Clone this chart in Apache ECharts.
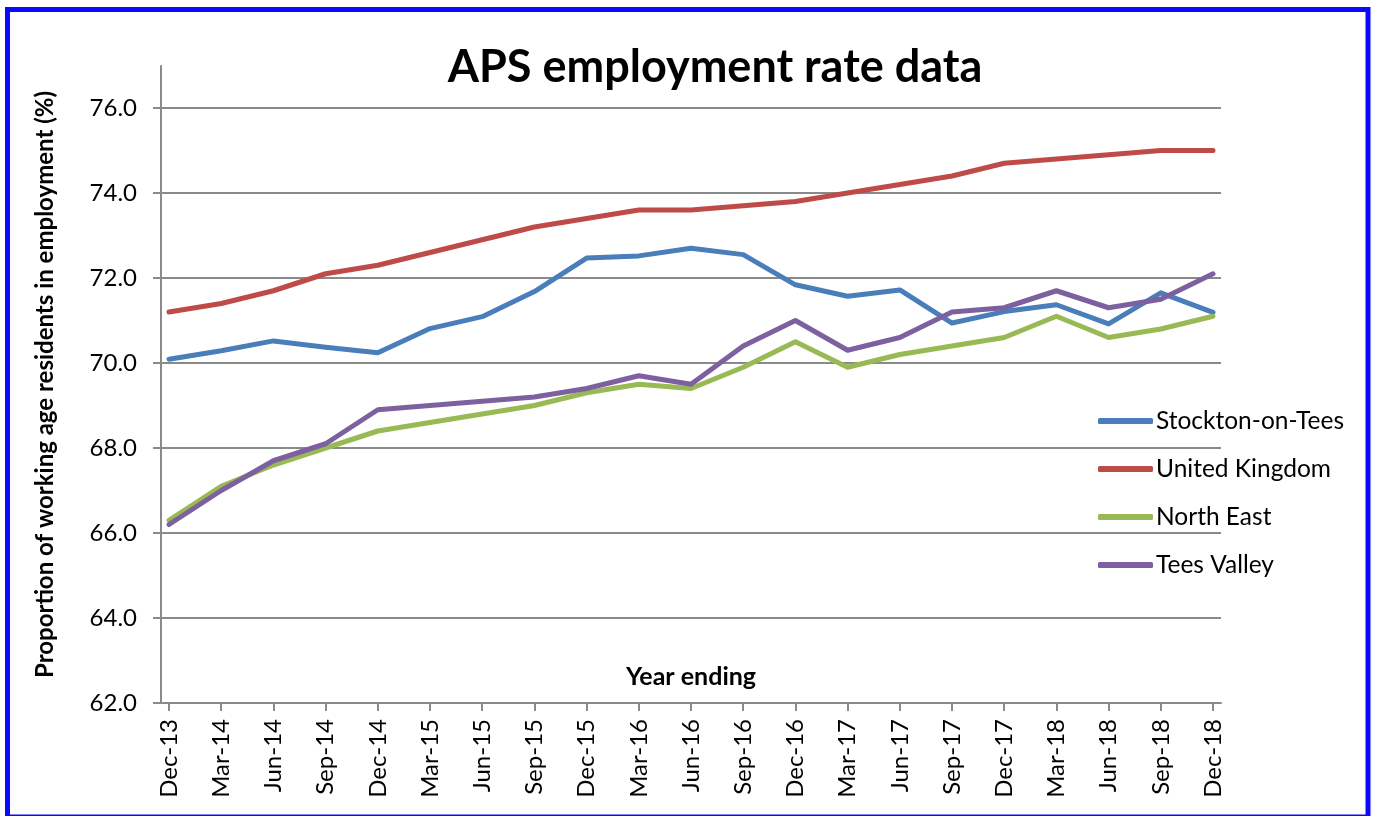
<!DOCTYPE html>
<html>
<head>
<meta charset="utf-8">
<script src="https://cdn.jsdelivr.net/npm/echarts@6/dist/echarts.min.js"></script>
<style>
  html, body { margin: 0; padding: 0; background: #fff; }
  #chart { width: 1375px; height: 816px; }
</style>
</head>
<body>
<div id="chart"></div>
<script>
// Quarterly "year ending" periods
const quarters = ['Dec-13','Mar-14','Jun-14','Sep-14','Dec-14','Mar-15','Jun-15','Sep-15','Dec-15',
  'Mar-16','Jun-16','Sep-16','Dec-16','Mar-17','Jun-17','Sep-17','Dec-17','Mar-18','Jun-18','Sep-18','Dec-18'];

// Employment rate (%) of working age residents
const stockton = [70.09, 70.29, 70.52, 70.37, 70.24, 70.81, 71.09, 71.68, 72.47, 72.52, 72.70,
  72.55, 71.84, 71.57, 71.72, 70.94, 71.21, 71.37, 70.92, 71.65, 71.19];
const unitedKingdom = [71.2, 71.4, 71.7, 72.1, 72.3, 72.6, 72.9, 73.2, 73.4, 73.6, 73.6,
  73.7, 73.8, 74.0, 74.2, 74.4, 74.7, 74.8, 74.9, 75.0, 75.0];
const northEast = [66.3, 67.1, 67.6, 68.0, 68.4, 68.6, 68.8, 69.0, 69.3, 69.5, 69.4,
  69.9, 70.5, 69.9, 70.2, 70.4, 70.6, 71.1, 70.6, 70.8, 71.1];
const teesValley = [66.2, 67.0, 67.7, 68.1, 68.9, 69.0, 69.1, 69.2, 69.4, 69.7, 69.5,
  70.4, 71.0, 70.3, 70.6, 71.2, 71.3, 71.7, 71.3, 71.5, 72.1];

const seriesNames = ['Stockton-on-Tees', 'United Kingdom', 'North East', 'Tees Valley'];
const seriesColors = ['#4a7ebb', '#be4b48', '#98b954', '#7d60a0'];

const FONT = 'Lato, "Open Sans", sans-serif';
const GRID_COLOR = '#8a8a8a';

const chart = echarts.init(document.getElementById('chart'), null, { renderer: 'canvas' });

const lineSeries = [stockton, unitedKingdom, northEast, teesValley].map((vals, i) => ({
  name: seriesNames[i],
  type: 'line',
  xAxisIndex: 0,
  yAxisIndex: 0,
  data: vals,
  symbol: 'none',
  smooth: false,
  lineStyle: { width: 5, color: seriesColors[i], cap: 'round', join: 'round' },
  itemStyle: { color: seriesColors[i] },
  z: 3 + i
}));

chart.setOption({
  backgroundColor: '#ffffff',
  animation: false,
  title: {
    text: 'APS employment rate data',
    left: 710,
    textAlign: 'center',
    top: 40,
    textStyle: { fontFamily: FONT, fontWeight: 'bold', fontSize: 45, color: '#000' }
  },
  legend: {
    orient: 'vertical',
    left: 1093,
    top: 401,
    icon: 'roundRect',
    itemWidth: 55,
    itemHeight: 6,
    itemGap: 18,
    textStyle: { fontFamily: FONT, fontSize: 24.5, color: '#000', lineHeight: 30, padding: [0, 0, 0, -2] },
    data: seriesNames
  },
  grid: [
    // plotting area for the series
    { left: 169, right: 162, top: 108, bottom: 113 },
    // gridlines and value labels
    { left: 161, right: 154, top: 108, bottom: 113 },
    // tall vertical axis line
    { left: 161, right: 154, top: 66, bottom: 113 }
  ],
  xAxis: [
    {
      gridIndex: 0,
      type: 'category',
      data: quarters,
      boundaryGap: false,
      axisLine: { show: false },
      axisTick: { show: true, length: 8, lineStyle: { color: GRID_COLOR, width: 2 } },
      axisLabel: { rotate: 90, margin: 16, fontFamily: FONT, fontSize: 24, color: '#000' },
      name: 'Year ending',
      nameLocation: 'middle',
      nameGap: -39,
      nameTextStyle: { fontFamily: FONT, fontWeight: 'bold', fontSize: 25, color: '#000' },
      splitLine: { show: false }
    },
    {
      gridIndex: 1,
      type: 'value',
      min: 0, max: 1,
      axisLine: { show: true, lineStyle: { color: GRID_COLOR, width: 2 } },
      axisTick: { show: false },
      axisLabel: { show: false },
      splitLine: { show: false }
    },
    {
      gridIndex: 2,
      type: 'value',
      show: false,
      min: 0, max: 1
    }
  ],
  yAxis: [
    {
      gridIndex: 0,
      type: 'value',
      min: 62, max: 76,
      show: false
    },
    {
      gridIndex: 1,
      type: 'value',
      min: 62, max: 76, interval: 2,
      axisLine: { show: false },
      axisTick: { show: true, length: 8, lineStyle: { color: GRID_COLOR, width: 2 } },
      axisLabel: {
        margin: 24,
        fontFamily: FONT, fontSize: 24, color: '#000',
        formatter: v => v.toFixed(1)
      },
      splitLine: { show: true, lineStyle: { color: GRID_COLOR, width: 2 } }
    },
    {
      gridIndex: 2,
      type: 'value',
      min: 62, max: 77,
      axisLine: { show: true, lineStyle: { color: GRID_COLOR, width: 2 } },
      axisTick: { show: false },
      axisLabel: { show: false },
      splitLine: { show: false },
      name: 'Proportion of working age residents in employment (%)',
      nameLocation: 'middle',
      nameRotate: 90,
      nameGap: 104,
      nameTextStyle: { fontFamily: FONT, fontWeight: 'bold', fontSize: 24, color: '#000' }
    }
  ],
  graphic: [
    {
      type: 'rect',
      shape: { x: 7.5, y: 9.5, width: 1360.5, height: 807.5 },
      style: { fill: 'none', stroke: '#0a0aff', lineWidth: 5 },
      silent: true,
      z: 100
    }
  ],
  series: lineSeries
});
</script>
</body>
</html>
